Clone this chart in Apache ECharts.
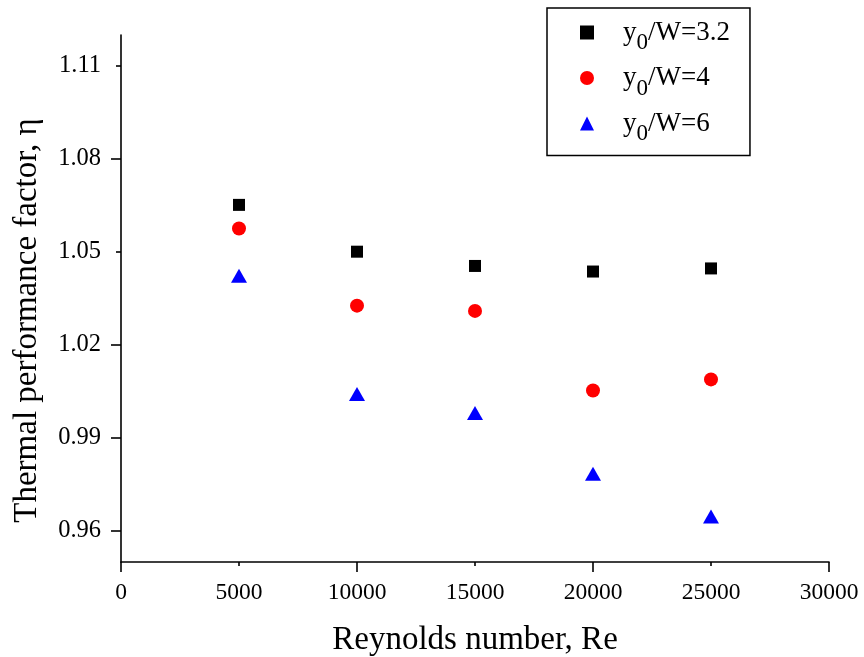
<!DOCTYPE html>
<html>
<head>
<meta charset="utf-8">
<script src="https://cdn.jsdelivr.net/npm/echarts@6/dist/echarts.min.js"></script>
<style>html,body{margin:0;padding:0;background:#fff;}#c{width:864px;height:657px;}</style>
</head>
<body>
<div id="c"></div>
<script>
// ---- data ----
const reynolds = [5000, 10000, 15000, 20000, 25000];
const eta_3_2 = [1.0652, 1.0501, 1.0455, 1.0437, 1.0447];
const eta_4 = [1.0576, 1.0327, 1.0310, 1.0053, 1.0089];
const eta_6 = [1.0423, 1.0042, 0.9981, 0.9785, 0.9647];
const seriesNames = ['y0/W=3.2', 'y0/W=4', 'y0/W=6'];
const xTickLabels = [0, 5000, 10000, 15000, 20000, 25000, 30000];
const xMajorTicks = [0, 10000, 20000, 30000];
const yTickLabels = [0.96, 0.99, 1.02, 1.05, 1.08, 1.11];
const yLongTicks = [0.96, 0.99, 1.02, 1.08];
const yShortTicks = [1.05, 1.11];

const FONT = '"Liberation Serif", "Times New Roman", serif';
const pairs = (ys) => reynolds.map((x, i) => [x, ys[i]]);

const chart = echarts.init(document.getElementById('c'), null, {renderer: 'canvas'});
const axisLineStyle = {color: '#000', width: 1.6};

chart.setOption({
  animation: false,
  backgroundColor: '#fff',
  grid: {left: 121, right: 35, top: 35, bottom: 95, containLabel: false, outerBoundsMode: 'none'},
  legend: {
    orient: 'vertical',
    left: 547, top: 8,
    padding: [11, 20, 10, 33],
    itemGap: 10,
    itemWidth: 14, itemHeight: 14,
    borderColor: '#000', borderWidth: 1.5,
    backgroundColor: '#fff',
    data: [
      {name: seriesNames[0], icon: 'rect'},
      {name: seriesNames[1], icon: 'circle'},
      {name: seriesNames[2], icon: 'triangle'}
    ],
    formatter: function (name) {
      const rest = name.slice(2);
      return '{f|y}{s|0}{m|' + rest + '}';
    },
    textStyle: {
      rich: {
        f: {fontFamily: FONT, fontSize: 27, color: '#000', padding: [0, 0, 0, 24]},
        m: {fontFamily: FONT, fontSize: 27, color: '#000'},
        s: {fontFamily: FONT, fontSize: 23, color: '#000', padding: [21, 0, 0, 0]}
      }
    }
  },
  xAxis: {
    type: 'value', min: 0, max: 30000, interval: 10000,
    name: 'Reynolds number, Re', nameLocation: 'middle', nameGap: 62,
    nameTextStyle: {fontFamily: FONT, fontSize: 33, color: '#000'},
    axisLine: {show: true, lineStyle: axisLineStyle},
    axisTick: {show: true, length: 10, lineStyle: axisLineStyle, customValues: xMajorTicks},
    minorTick: {show: true, splitNumber: 2, length: 4, lineStyle: axisLineStyle},
    splitLine: {show: false}, minorSplitLine: {show: false},
    axisLabel: {fontFamily: FONT, fontSize: 23.5, color: '#000', margin: 19, customValues: xTickLabels,
      formatter: (v) => String(Math.round(v))}
  },
  yAxis: [{
    type: 'value', min: 0.95, max: 1.12,
    name: 'Thermal performance factor, \u03B7', nameLocation: 'middle', nameGap: 77,
    nameTextStyle: {fontFamily: FONT, fontSize: 33, color: '#000', padding: [0, 44, 0, 0]},
    axisLine: {show: true, lineStyle: axisLineStyle},
    axisTick: {show: true, length: 10, lineStyle: axisLineStyle, customValues: yLongTicks},
    splitLine: {show: false},
    axisLabel: {fontFamily: FONT, fontSize: 24.5, color: '#000', margin: 20, customValues: yTickLabels,
      formatter: (v) => v.toFixed(2)}
  }, {
    type: 'value', min: 0.95, max: 1.12, position: 'left',
    axisLine: {show: false},
    axisTick: {show: true, length: 5, lineStyle: axisLineStyle, customValues: yShortTicks},
    axisLabel: {show: false},
    splitLine: {show: false}
  }],
  series: [
    {name: seriesNames[0], type: 'scatter', symbol: 'rect', symbolSize: 12, itemStyle: {color: '#000', opacity: 1}, data: pairs(eta_3_2)},
    {name: seriesNames[1], type: 'scatter', symbol: 'circle', symbolSize: 14, itemStyle: {color: '#ff0000', opacity: 1}, data: pairs(eta_4)},
    {name: seriesNames[2], type: 'scatter', symbol: 'triangle', symbolSize: [16, 14], itemStyle: {color: '#0000ff', opacity: 1}, data: pairs(eta_6)}
  ]
});
</script>
</body>
</html>
